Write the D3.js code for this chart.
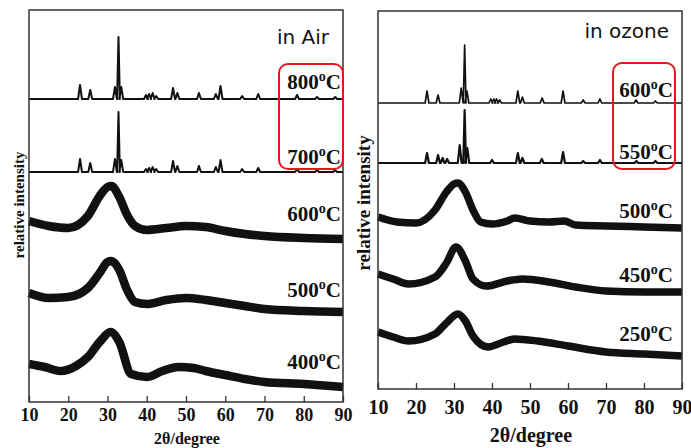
<!DOCTYPE html>
<html>
<head>
<meta charset="utf-8">
<script src="https://cdn.jsdelivr.net/npm/d3@7"></script>
<style>
  body { margin: 0; background: #fff; }
  .serif { font-family: "Liberation Serif", "Times New Roman", serif; font-weight: bold; }
</style>
</head>
<body>
<svg id="xrd"></svg>
<script>
var width = 691,
    height = 448;

// x ticks shared by both panels
var xTicks = [10, 20, 30, 40, 50, 60, 70, 80, 90];

// ---- in Air ----
var airTemps = ["800", "700", "600", "500", "400"];
// crystalline patterns: baseline level + [2theta, peak height]
var air800Base = 303;
var air800Peaks = [[23.0, 14], [25.6, 9], [31.9, 12], [32.8, 62], [33.5, 12], [39.8, 4], [40.6, 5], [41.5, 6], [42.4, 3],
                   [46.7, 11], [47.8, 6], [53.3, 6], [57.6, 5], [58.8, 13], [64.3, 3], [68.4, 5], [78.3, 4], [83.4, 2], [88.0, 2]];
var air700Base = 230;
var air700Peaks = [[23.0, 13], [25.6, 9], [31.9, 13], [32.8, 60], [33.5, 12], [39.8, 3], [40.6, 4], [41.5, 5], [42.4, 3],
                   [46.7, 11], [47.8, 6], [53.3, 6], [57.6, 5], [58.8, 12], [64.3, 3], [68.4, 4], [78.3, 3], [83.4, 2], [88.0, 2]];
// amorphous patterns: [2theta, intensity]
var air600 = [[10, 181], [15, 176], [20, 174], [25, 186], [28, 206], [30, 215], [31, 216], [33, 205], [35, 187], [37, 176], [40, 172],
              [45, 174], [50, 176], [55, 175], [60, 171], [65, 168], [70, 166], [80, 164], [90, 163]];
var air500 = [[10, 109], [15, 104], [20, 105], [25, 114], [28, 129], [30, 140], [31, 141], [33, 132], [35, 112], [37, 100], [40, 98],
              [45, 102], [50, 104], [55, 102], [60, 99], [65, 96], [70, 93], [80, 91], [90, 90]];
var air400 = [[10, 38], [14, 35], [18, 31], [22, 36], [25, 45], [28, 60], [30.8, 70], [33, 60], [36, 28], [40, 25], [44, 31],
              [48, 35], [52, 34], [55, 31], [60, 27], [65, 23], [70, 20], [80, 18], [90, 15]];

// ---- in ozone ----
var ozoneTemps = ["600", "550", "500", "450", "250"];
var oz600Base = 286;
var oz600Peaks = [[22.9, 12], [25.8, 8], [31.9, 15], [32.8, 58], [33.4, 12], [39.7, 4], [40.5, 4], [41.2, 4], [42.0, 3],
                  [46.8, 12], [48.0, 6], [53.2, 5], [58.7, 12], [64.0, 3], [68.4, 4], [77.9, 3], [83.0, 2]];
var oz550Base = 226;
var oz550Peaks = [[22.9, 10], [25.8, 8], [27.0, 5], [28.2, 4], [31.5, 18], [32.8, 53], [33.5, 15], [40.0, 3],
                  [46.8, 10], [48.0, 5], [53.1, 4], [58.7, 11], [64.0, 2], [68.4, 3], [78.0, 2], [83.0, 2]];
var oz500 = [[10, 172], [15, 167], [20, 166], [25, 179], [28, 197], [30, 205], [31, 206], [33, 197], [35, 179], [37, 167], [40, 165],
             [44, 168], [46, 171], [50, 168], [55, 167], [59, 168], [62, 164], [70, 163], [80, 162], [90, 161]];
var oz450 = [[10, 115], [14, 110], [18, 105], [25, 112], [28, 126], [30.5, 142], [33, 128], [35, 110], [38.5, 103], [44, 108],
             [48, 110], [55, 107], [62, 102], [70, 98], [80, 97], [90, 97]];
var oz250 = [[10, 57], [14, 52], [18, 48], [25, 55], [28, 66], [31, 75], [33, 68], [35, 53], [39, 42], [43, 47], [46, 50],
             [52, 48], [60, 43], [70, 37], [80, 35], [90, 33]];

var svg = d3.select("#xrd")
    .attr("width", width)
    .attr("height", height);

// turn a peak list into a polyline over the baseline
function peakProfile(base, peaks) {
    var pts = [[10, base]];
    peaks.forEach(function(p) {
        var w = p[1] > 30 ? 0.35 : 0.5;
        pts.push([p[0] - w, base]);
        pts.push([p[0], base + p[1]]);
        pts.push([p[0] + w, base]);
    });
    pts.push([90, base]);
    return pts;
}

function sup(sel, t, big, small) {
    sel.append("tspan").text(t);
    sel.append("tspan").attr("font-size", small).attr("dy", -big * 0.4).text("o");
    sel.append("tspan").attr("dy", big * 0.4).text("C");
}

function panel(cfg) {
    var x = d3.scaleLinear().domain([10, 90]).range([cfg.left, cfg.right]);
    var y = d3.scaleLinear().domain([0, cfg.bottom - cfg.top]).range([cfg.bottom, cfg.top]);
    var g = svg.append("g");

    var line = d3.line()
        .x(function(d) { return x(d[0]); })
        .y(function(d) { return y(d[1]); });

    // crystalline traces
    cfg.peaks.forEach(function(p) {
        g.append("path")
            .attr("d", line.curve(d3.curveLinear)(peakProfile(p.base, p.peaks)))
            .attr("fill", "none")
            .attr("stroke", "#111")
            .attr("stroke-width", p.sw)
            .attr("stroke-linejoin", "round");
    });
    // amorphous (noisy) traces drawn as a thick band
    cfg.broad.forEach(function(b) {
        g.append("path")
            .attr("d", line.curve(d3.curveMonotoneX)(b))
            .attr("fill", "none")
            .attr("stroke", "#111")
            .attr("stroke-width", cfg.band);
    });

    // frame
    g.append("rect")
        .attr("x", cfg.left).attr("y", cfg.top)
        .attr("width", cfg.right - cfg.left).attr("height", cfg.bottom - cfg.top)
        .attr("fill", "none").attr("stroke", "#333").attr("stroke-width", 1.5);

    var axis = g.append("g")
        .attr("transform", "translate(0," + cfg.bottom + ")")
        .call(d3.axisBottom(x).tickValues(xTicks).tickSizeInner(-6).tickSizeOuter(0).tickPadding(cfg.pad));
    axis.select(".domain").remove();
    axis.selectAll("line").attr("stroke", "#333").attr("stroke-width", 1.3);
    axis.selectAll("text")
        .attr("class", "serif")
        .attr("font-size", cfg.tickFont)
        .attr("fill", "#111");

    // axis titles
    g.append("text").attr("class", "serif")
        .attr("x", cfg.xTitle[0]).attr("y", cfg.xTitle[1])
        .attr("text-anchor", "middle").attr("font-size", cfg.titleFont).attr("fill", "#111")
        .text("2θ/degree");

    g.append("text").attr("class", "serif")
        .attr("transform", "translate(" + cfg.yTitle[0] + "," + cfg.yTitle[1] + ") rotate(-90)")
        .attr("text-anchor", "middle").attr("font-size", cfg.yFont).attr("fill", "#111")
        .text("relative intensity");

    // atmosphere label
    g.append("text")
        .attr("x", cfg.atm[0]).attr("y", cfg.atm[1])
        .attr("text-anchor", "end")
        .attr("font-family", "DejaVu Sans, sans-serif")
        .attr("font-size", 20).attr("fill", "#111")
        .text(cfg.atmText);

    // temperature labels
    cfg.temps.forEach(function(t, i) {
        var tx = g.append("text").attr("class", "serif")
            .attr("x", cfg.labelX).attr("y", cfg.labelY[i])
            .attr("text-anchor", "end").attr("font-size", 21).attr("fill", "#111");
        sup(tx, t, 21, 14);
    });

    // red highlight box
    g.append("rect")
        .attr("x", cfg.box[0]).attr("y", cfg.box[1])
        .attr("width", cfg.box[2]).attr("height", cfg.box[3])
        .attr("rx", 9).attr("ry", 9)
        .attr("fill", "none").attr("stroke", "#e8161b").attr("stroke-width", 2);
}

panel({
    left: 29, right: 343, top: 10, bottom: 402,
    peaks: [{base: air800Base, peaks: air800Peaks, sw: 2}, {base: air700Base, peaks: air700Peaks, sw: 2}],
    broad: [air600, air500, air400],
    band: 8.5,
    pad: 6, tickFont: 18, titleFont: 16, yFont: 15,
    xTitle: [187, 444], yTitle: [24, 205],
    atm: [329, 44], atmText: "in Air",
    temps: airTemps, labelX: 341, labelY: [89, 164, 221, 297, 369],
    box: [279, 64, 64, 105]
});

panel({
    left: 378, right: 682, top: 11, bottom: 389,
    peaks: [{base: oz600Base, peaks: oz600Peaks, sw: 1.7}, {base: oz550Base, peaks: oz550Peaks, sw: 2.2}],
    broad: [oz500, oz450, oz250],
    band: 7.5,
    pad: 11, tickFont: 20, titleFont: 20, yFont: 19,
    xTitle: [531, 442], yTitle: [370, 203],
    atm: [669, 38], atmText: "in ozone",
    temps: ozoneTemps, labelX: 673, labelY: [97, 159, 218, 282, 341],
    box: [613, 63, 62, 106]
});
</script>
</body>
</html>
